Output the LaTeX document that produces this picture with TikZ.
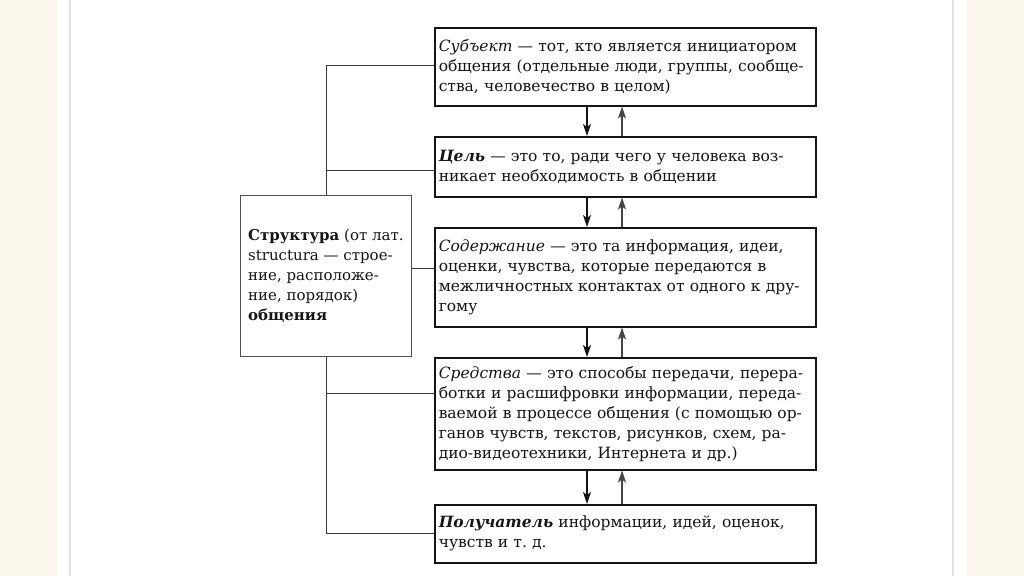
\documentclass[tikz,border=0pt]{standalone}
\usepackage{fontspec}
\setmainfont{DejaVu Serif}
\usetikzlibrary{arrows.meta}
\definecolor{beige}{HTML}{FBF6EC}
\definecolor{edgegray}{HTML}{E2E2E2}
\definecolor{ink}{HTML}{151515}
\begin{document}
\begin{tikzpicture}[x=1pt,y=-1pt,
  mainbox/.style={draw=ink, line width=1.5pt, anchor=north west, inner xsep=4pt, inner ysep=0pt,
    text width=373pt, align=left, text=ink, font=\fontsize{15.5}{20}\selectfont},
  structbox/.style={draw=ink!75, line width=0.8pt, fill=white, anchor=north west,
    minimum width=171pt, minimum height=161pt, inner sep=0pt, align=left, text=ink,
    font=\fontsize{15}{20}\selectfont},
  bus/.style={draw=ink!85, line width=0.9pt},
  arr/.style={draw=ink, line width=1.4pt, -{Stealth[length=12pt,width=8pt,inset=3pt]}},
  uparr/.style={draw=ink!80, line width=1.1pt, -{Stealth[length=12pt,width=8pt,inset=3pt]}}]
\useasboundingbox (0,0) rectangle (1024,576);
\fill[beige] (0,0) rectangle (57,576);
\fill[beige] (967,0) rectangle (1024,576);
\draw[edgegray, line width=1.2pt] (70,0) -- (70,576);
\draw[edgegray, line width=1.2pt] (953,0) -- (953,576);

\node[mainbox, minimum height=78pt] (subj) at (434,27) {\textit{Субъект} — тот, кто является инициатором\\
общения (отдельные люди, группы, сообще-\\
ства, человечество в целом)};
\node[mainbox, minimum height=60pt] (cel) at (434,136) {\textbf{\textit{Цель}} — это то, ради чего у человека воз-\\
никает необходимость в общении};
\node[mainbox, minimum height=99pt] (sod) at (434,227) {\textit{Содержание} — это та информация, идеи,\\
оценки, чувства, которые передаются в\\
межличностных контактах от одного к дру-\\
гому};
\node[mainbox, minimum height=112pt] (sred) at (434,357) {\textit{Средства} — это способы передачи, перера-\\
ботки и расшифровки информации, переда-\\
ваемой в процессе общения (с помощью ор-\\
ганов чувств, текстов, рисунков, схем, ра-\\
дио-видеотехники, Интернета и др.)};
\node[mainbox, minimum height=58pt] (pol) at (434,504) {\textbf{\textit{Получатель}} информации, идей, оценок,\\
чувств и т.~д.};

\coordinate (b1) at (326,65);
\coordinate (b2) at (326,170);
\coordinate (b3) at (326,268);
\coordinate (b4) at (326,393);
\coordinate (b5) at (326,533);
\draw[bus] (b1) -- (b5);
\draw[bus] (b1) -- (subj.west |- b1);
\draw[bus] (b2) -- (cel.west |- b2);
\draw[bus] (b3) -- (sod.west |- b3);
\draw[bus] (b4) -- (sred.west |- b4);
\draw[bus] (b5) -- (pol.west |- b5);

\node[structbox] (sbox) at (240,195) {\textbf{Структура} (от лат.\\
structura — строе-\\
ние, расположе-\\
ние, порядок)\\
\textbf{общения}};

\coordinate (dx) at (587,0);
\coordinate (ux) at (622,0);
\draw[arr] (subj.south -| dx) -- (cel.north -| dx);
\draw[uparr] (cel.north -| ux) -- (subj.south -| ux);
\draw[arr] (cel.south -| dx) -- (sod.north -| dx);
\draw[uparr] (sod.north -| ux) -- (cel.south -| ux);
\draw[arr] (sod.south -| dx) -- (sred.north -| dx);
\draw[uparr] (sred.north -| ux) -- (sod.south -| ux);
\draw[arr] (sred.south -| dx) -- (pol.north -| dx);
\draw[uparr] (pol.north -| ux) -- (sred.south -| ux);
\end{tikzpicture}
\end{document}
